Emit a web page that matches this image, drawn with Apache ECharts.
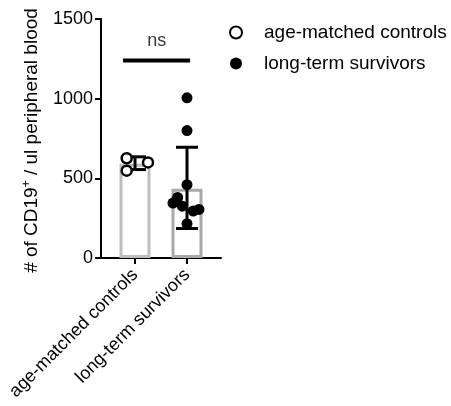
<!DOCTYPE html>
<html><head><meta charset="utf-8">
<script src="https://cdn.jsdelivr.net/npm/echarts@6/dist/echarts.min.js"></script>
<style>html,body{margin:0;padding:0;background:#fff}#c{width:451px;height:406px}</style>
</head><body><div id="c"></div>
<script>
const categories = ["age-matched controls", "long-term survivors"];
const controls = [626, 548, 600];
const survivors = [1005, 800, 460, 380, 345, 325, 295, 305, 215];
const barMeans = [591, 435];
const errLow = [555, 185];
const errHigh = [635, 695];
const yTicks = [0, 500, 1000, 1500];
const sigValue = 1240;
const sigLabel = "ns";

// jitter offsets (x position within category)
const controlsX = [0.84, 0.84, 1.25];
const survivorsX = [2.0, 2.0, 2.0, 1.82, 1.73, 1.91, 2.12, 2.23, 2.0];

const font = "Liberation Sans, Arial, sans-serif";
const chart = echarts.init(document.getElementById('c'));
chart.setOption({
  animation: false,
  textStyle: { fontFamily: font, color: '#000' },
  grid: { left: 101, top: 19, right: 230, bottom: 148, containLabel: false },
  legend: {
    orient: 'vertical', left: 224, top: 18, itemGap: 12, itemWidth: 12, itemHeight: 12,
    textStyle: { fontSize: 19, color: '#000', fontFamily: font, padding: [0, 0, 0, 17] },
    data: [
      { name: categories[0], icon: 'circle' },
      { name: categories[1], icon: 'circle' }
    ]
  },
  xAxis: {
    type: 'value', min: 0.346, max: 2.654,
    axisLine: { show: true, lineStyle: { color: '#000', width: 2 } },
    axisTick: { show: true, length: 6, lineStyle: { color: '#000', width: 2 }, customValues: [1, 2] },
    axisLabel: {
      customValues: [1, 2], rotate: 45, fontSize: 18, color: '#000', fontFamily: font, margin: 14,
      formatter: v => categories[Math.round(v) - 1]
    },
    splitLine: { show: false }
  },
  yAxis: {
    type: 'value', min: 0, max: 1500, interval: 500,
    axisLine: { show: true, lineStyle: { color: '#000', width: 2 } },
    axisTick: { show: true, length: 6, lineStyle: { color: '#000', width: 2 } },
    axisLabel: { fontSize: 18, color: '#000', fontFamily: font, margin: 8, formatter: v => yTicks.includes(v) ? String(v) : '' },
    splitLine: { show: false },
    name: '# of CD19{sup|+} / ul peripheral blood',
    nameLocation: 'middle', nameGap: 58,
    nameTextStyle: { fontSize: 19, color: '#000', fontFamily: font, padding: [0, 0, 0, -4],
      rich: { sup: { fontSize: 12, verticalAlign: 'bottom', padding: [0, 0, 10, 0], fontFamily: font, color: '#000' } } }
  },
  series: [
    {
      type: 'bar', barWidth: 31, silent: true,
      data: barMeans.map((m, i) => ({ value: [i + 1, m], itemStyle: { color: '#fff', borderColor: i === 0 ? '#bdbdbd' : '#a9a9a9', borderWidth: 3 } })),
      z: 1
    },
    {
      type: 'custom', z: 3, silent: true,
      data: barMeans.map((m, i) => [i + 1, errLow[i], errHigh[i]]),
      renderItem: (params, api) => {
        const x = api.value(0);
        const lo = api.coord([x, api.value(1)]);
        const hi = api.coord([x, api.value(2)]);
        const hw = 11;
        const st = { stroke: '#000', lineWidth: 3 };
        return { type: 'group', children: [
          { type: 'line', shape: { x1: lo[0], y1: lo[1], x2: hi[0], y2: hi[1] }, style: st },
          { type: 'line', shape: { x1: lo[0] - hw, y1: lo[1], x2: lo[0] + hw, y2: lo[1] }, style: st },
          { type: 'line', shape: { x1: hi[0] - hw, y1: hi[1], x2: hi[0] + hw, y2: hi[1] }, style: st }
        ] };
      }
    },
    {
      name: categories[0], type: 'scatter', symbol: 'circle', symbolSize: 10, z: 4,
      itemStyle: { color: '#fff', borderColor: '#000', borderWidth: 2.5, opacity: 1 },
      data: controls.map((v, i) => [controlsX[i], v])
    },
    {
      name: categories[1], type: 'scatter', symbol: 'circle', symbolSize: 11, z: 4,
      itemStyle: { color: '#000', opacity: 1 },
      data: survivors.map((v, i) => [survivorsX[i], v])
    },
    {
      type: 'line', z: 4, silent: true, symbol: 'none',
      lineStyle: { color: '#000', width: 4 },
      data: [[0.77, sigValue], [2.06, sigValue]]
    },
    {
      type: 'scatter', symbolSize: 0, silent: true, z: 5,
      label: { show: true, position: 'top', distance: 10, formatter: sigLabel, fontSize: 18, color: '#000', fontFamily: font },
      data: [[1.42, sigValue]]
    }
  ]
});
</script></body></html>
